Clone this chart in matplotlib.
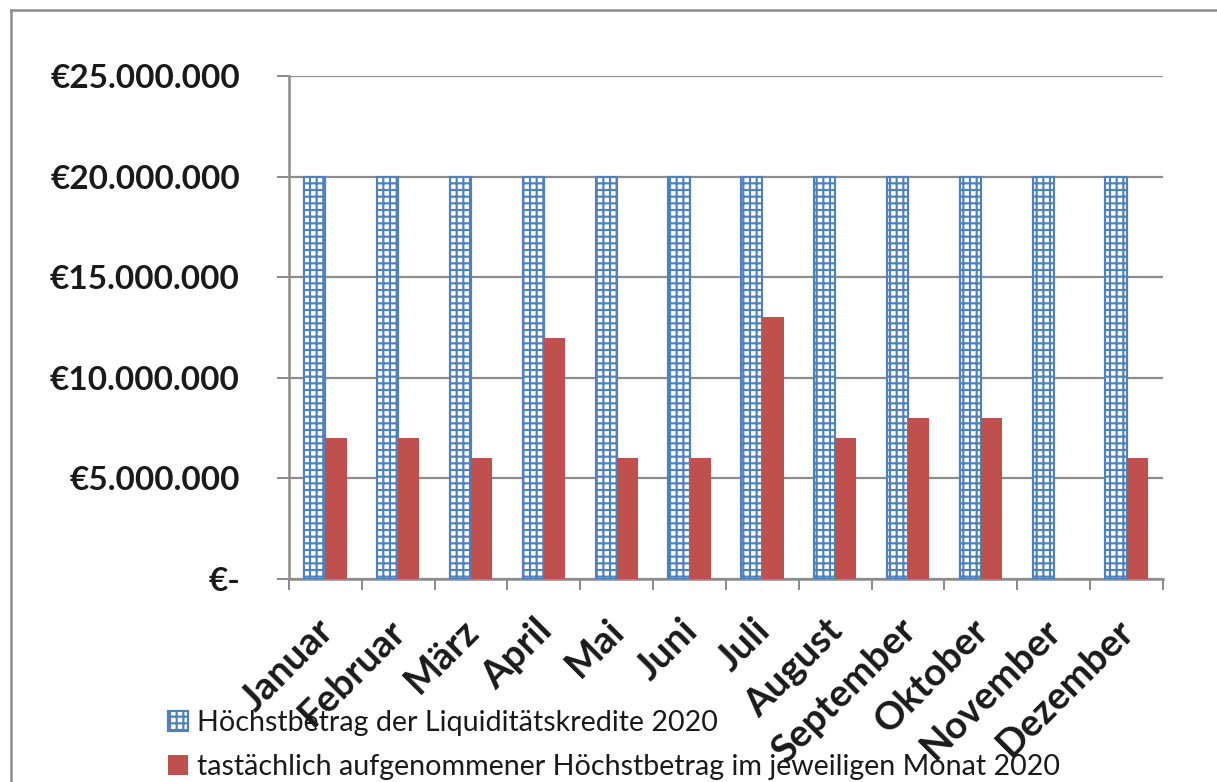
import matplotlib
matplotlib.use("Agg")
import matplotlib.pyplot as plt
import matplotlib.transforms as mtransforms
from matplotlib.lines import Line2D
import numpy as np

months = ["Januar", "Februar", "März", "April", "Mai", "Juni", "Juli",
          "August", "September", "Oktober", "November", "Dezember"]
max_credit = [20000000] * 12
used_credit = [7000000, 7000000, 6000000, 12000000, 6000000, 6000000,
               13000000, 7000000, 8000000, 8000000, 0, 6000000]
y_ticks = [0, 5000000, 10000000, 15000000, 20000000, 25000000]
y_labels = ["€-", "€5.000.000", "€10.000.000", "€15.000.000",
            "€20.000.000", "€25.000.000"]
legend_labels = ["Höchstbetrag der Liquiditätskredite 2020",
                 "tastächlich aufgenommener Höchstbetrag im jeweiligen Monat 2020"]

DPI = 120
W, H = 1217, 782
BLUE = "#4F81BD"
RED = "#C0504D"
GRID = "#8C8C8C"

plt.rcParams['font.family'] = ['Lato', 'DejaVu Sans']
plt.rcParams['hatch.linewidth'] = 1.3
plt.rcParams['hatch.color'] = BLUE

def px(v):
    return v * 72.0 / DPI

fig = plt.figure(figsize=(W / DPI, H / DPI), dpi=DPI)
ax = fig.add_axes([289 / W, 1 - 579 / H, (1163 - 289) / W, (579 - 76) / H])

x = np.arange(len(months))
bw = 0.29
ax.bar(x - bw / 2, max_credit, width=bw, facecolor="white", edgecolor=BLUE,
       hatch="+++", linewidth=1.3, label=legend_labels[0], zorder=3)
ax.bar(x + bw / 2, used_credit, width=bw, color=RED, label=legend_labels[1],
       zorder=3)

ax.set_xlim(-0.5, len(months) - 0.5)
ax.set_ylim(0, 25000000)

ax.set_yticks(y_ticks)
ax.set_yticklabels(y_labels, fontsize=20, fontweight="bold", color="#1a1a1a")
ax.tick_params(axis="y", length=px(12), width=px(2), color=GRID, pad=px(37))

ax.set_xticks(x)
ax.set_xticklabels(months, fontsize=23, fontweight="bold", color="#1a1a1a",
                   rotation=45, ha="right", va="center", rotation_mode="anchor")
ax.tick_params(axis="x", which="major", length=0, pad=px(46))
ax.set_xticks(np.arange(-0.5, len(months), 1.0), minor=True)
ax.tick_params(axis="x", which="minor", length=px(11), width=px(2), color=GRID)
offset = mtransforms.ScaledTranslation(px(2) / 72, 0, fig.dpi_scale_trans)
for lbl in ax.get_xticklabels():
    lbl.set_transform(lbl.get_transform() + offset)

ax.grid(axis="y", color=GRID, linewidth=px(2.2), zorder=0)
ax.set_axisbelow(True)
for s in ["top", "right"]:
    ax.spines[s].set_visible(False)
for s in ["left", "bottom"]:
    ax.spines[s].set_color(GRID)
    ax.spines[s].set_linewidth(px(2.5))

leg = fig.legend(loc="upper left", bbox_to_anchor=(168 / W, 1 - 710 / H),
                 frameon=False, fontsize=17.2, handlelength=0.7,
                 handleheight=0.7, handletextpad=0.3, labelspacing=0.62,
                 borderpad=0, borderaxespad=0)
for t in leg.get_texts():
    t.set_color("#1a1a1a")

# outer chart border (top and left edges visible in reference)
fig.add_artist(Line2D([11 / W, 11 / W], [0, 1 - 10 / H], transform=fig.transFigure,
                      color=GRID, linewidth=px(2.5)))
fig.add_artist(Line2D([11 / W, 1], [1 - 10 / H, 1 - 10 / H], transform=fig.transFigure,
                      color=GRID, linewidth=px(2.5)))

fig.savefig("out.png", dpi=DPI, facecolor="white")
